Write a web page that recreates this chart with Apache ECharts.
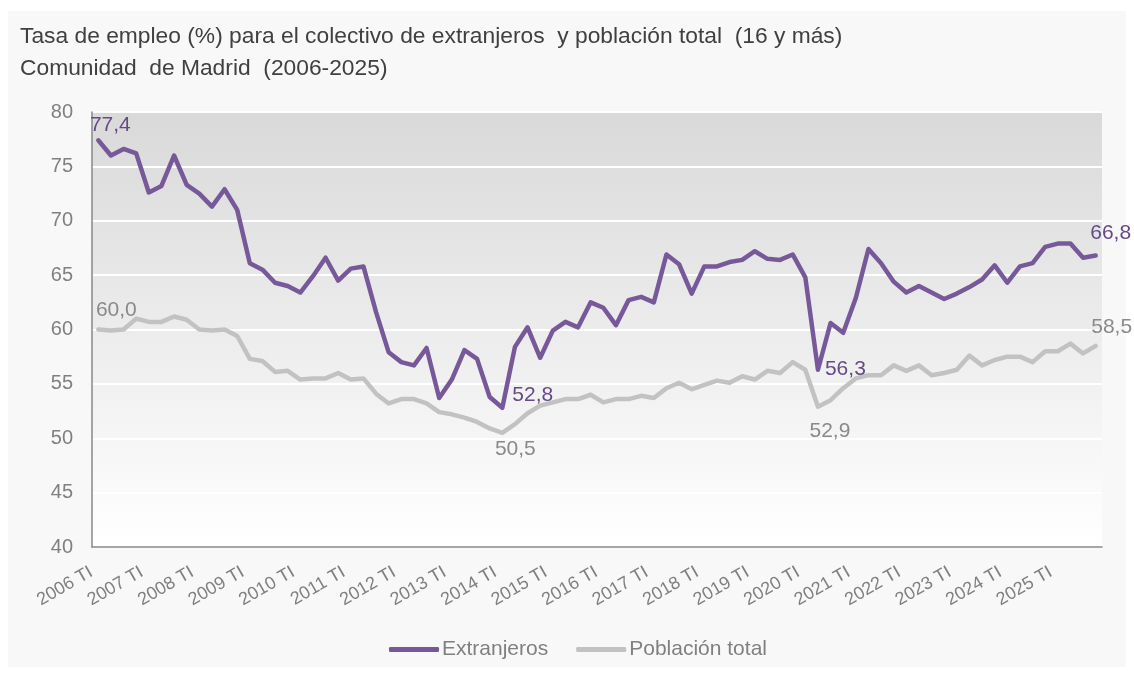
<!DOCTYPE html>
<html>
<head>
<meta charset="utf-8">
<script src="https://cdn.jsdelivr.net/npm/echarts@6/dist/echarts.min.js"></script>
<style>
  html, body { margin: 0; padding: 0; background: #ffffff; }
  #chart { width: 1134px; height: 675px; }
</style>
</head>
<body>
<div id="chart"></div>
<script>
// años y trimestres (2006 TI - 2025 TIV)
const years = [2006, 2007, 2008, 2009, 2010, 2011, 2012, 2013, 2014, 2015,
  2016, 2017, 2018, 2019, 2020, 2021, 2022, 2023, 2024, 2025];
const quarters = ["TI", "TII", "TIII", "TIV"];

// Tasa de empleo extranjeros (%)
const extranjeros = [
  77.4, 76.0, 76.6, 76.2, 72.6, 73.2, 76.0, 73.3, 72.5, 71.3,
  72.9, 71.0, 66.1, 65.5, 64.3, 64.0, 63.4, 64.9, 66.6, 64.5,
  65.6, 65.8, 61.6, 57.9, 57.0, 56.7, 58.3, 53.7, 55.4, 58.1,
  57.3, 53.8, 52.8, 58.4, 60.2, 57.4, 59.9, 60.7, 60.2, 62.5,
  62.0, 60.4, 62.7, 63.0, 62.5, 66.9, 66.0, 63.3, 65.8, 65.8,
  66.2, 66.4, 67.2, 66.5, 66.4, 66.9, 64.8, 56.3, 60.6, 59.7,
  62.9, 67.4, 66.1, 64.4, 63.4, 64.0, 63.4, 62.8, 63.3, 63.9,
  64.6, 65.9, 64.3, 65.8, 66.1, 67.6, 67.9, 67.9, 66.6, 66.8
];

// Tasa de empleo población total (%)
const poblacionTotal = [
  60.0, 59.9, 60.0, 61.0, 60.7, 60.7, 61.2, 60.9, 60.0, 59.9,
  60.0, 59.4, 57.3, 57.1, 56.1, 56.2, 55.4, 55.5, 55.5, 56.0,
  55.4, 55.5, 54.1, 53.2, 53.6, 53.6, 53.2, 52.4, 52.2, 51.9,
  51.5, 50.9, 50.5, 51.3, 52.3, 53.0, 53.3, 53.6, 53.6, 54.0,
  53.3, 53.6, 53.6, 53.9, 53.7, 54.6, 55.1, 54.5, 54.9, 55.3,
  55.1, 55.7, 55.4, 56.2, 56.0, 57.0, 56.3, 52.9, 53.5, 54.6,
  55.5, 55.8, 55.8, 56.7, 56.2, 56.7, 55.8, 56.0, 56.3, 57.6,
  56.7, 57.2, 57.5, 57.5, 57.0, 58.0, 58.0, 58.7, 57.8, 58.5
];

const categories = [];
years.forEach((y) => quarters.forEach((q) => categories.push(y + " " + q)));

// puntos con etiqueta: índice -> [posición, desplazamiento]
const labelsExt = { 0: ["top", [12, 0]], 32: ["right", [5, -13]], 57: ["right", [2, -1]], 79: ["top", [15, -7]] };
const labelsTot = { 0: ["top", [18, -4]], 32: ["bottom", [13, 1]], 57: ["bottom", [12, 9]], 79: ["top", [16, -3]] };

const FONT = "Liberation Sans";
const PURPLE = "#77599a";
const PURPLE_TXT = "#654a86";
const GREY = "#c2c2c2";
const GREY_TXT = "#8a8a8a";

function buildData(values, labels, color) {
  return values.map((v, i) => {
    if (!labels[i]) return v;
    return {
      value: v,
      label: {
        show: true,
        position: labels[i][0],
        offset: labels[i][1],
        distance: 5,
        color: color,
        fontSize: 21,
        fontFamily: FONT,
        formatter: (p) => p.value.toFixed(1).replace(".", ","),
      },
    };
  });
}

const chart = echarts.init(document.getElementById("chart"), null, { renderer: "canvas" });

chart.setOption({
  backgroundColor: "#ffffff",
  animation: false,
  graphic: [
    {
      type: "rect",
      z: -10,
      shape: { x: 8, y: 11, width: 1118, height: 656 },
      style: { fill: "#f8f8f8" },
    },
  ],
  title: {
    text: "Tasa de empleo (%) para el colectivo de extranjeros  y población total  (16 y más)\nComunidad  de Madrid  (2006-2025)",
    left: 20,
    top: 21,
    padding: 0,
    textStyle: {
      fontFamily: FONT,
      fontSize: 22.8,
      fontWeight: "normal",
      color: "#404040",
      lineHeight: 32,
    },
  },
  legend: {
    top: 634,
    left: 384,
    icon: "roundRect",
    itemWidth: 50,
    itemHeight: 5,
    itemGap: 28,
    textStyle: { fontFamily: FONT, fontSize: 21, color: "#808080", padding: [0, 0, 0, -2] },
    data: ["Extranjeros", "Población total"],
  },
  grid: {
    left: 92,
    right: 32,
    top: 112,
    bottom: 128,
    show: true,
    borderWidth: 0,
    backgroundColor: new echarts.graphic.LinearGradient(0, 0, 0, 1, [
      { offset: 0, color: "#d9d9d9" },
      { offset: 1, color: "#ffffff" },
    ]),
  },
  xAxis: {
    type: "category",
    data: categories,
    boundaryGap: true,
    axisLine: { show: true, lineStyle: { color: "#898989", width: 1.5 } },
    axisTick: { show: false },
    axisLabel: {
      interval: 3,
      rotate: 30,
      margin: 20,
      padding: [0, 8, 0, 0],
      fontFamily: FONT,
      fontSize: 18,
      color: "#808080",
    },
    splitLine: { show: false },
  },
  yAxis: {
    type: "value",
    min: 40,
    max: 80,
    interval: 5,
    axisLine: { show: true, lineStyle: { color: "#898989", width: 1.5 } },
    axisTick: { show: false },
    axisLabel: {
      margin: 19,
      fontFamily: FONT,
      fontSize: 20,
      color: "#808080",
    },
    splitLine: { show: true, lineStyle: { color: "#ffffff", width: 2 } },
  },
  series: [
    {
      name: "Extranjeros",
      type: "line",
      data: buildData(extranjeros, labelsExt, PURPLE_TXT),
      symbol: "circle",
      symbolSize: 0,
      showSymbol: true,
      showAllSymbol: true,
      z: 3,
      color: PURPLE,
      lineStyle: { color: PURPLE, width: 4.5, cap: "round", join: "round" },
    },
    {
      name: "Población total",
      type: "line",
      data: buildData(poblacionTotal, labelsTot, GREY_TXT),
      symbol: "circle",
      symbolSize: 0,
      showSymbol: true,
      showAllSymbol: true,
      z: 2,
      color: GREY,
      lineStyle: { color: GREY, width: 4.5, cap: "round", join: "round" },
    },
  ],
});
</script>
</body>
</html>
